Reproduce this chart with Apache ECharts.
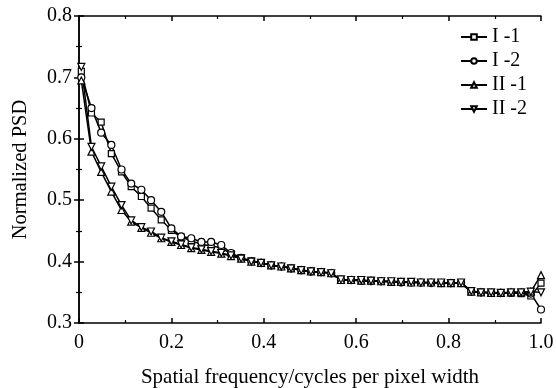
<!DOCTYPE html>
<html>
<head>
<meta charset="utf-8">
<script src="https://cdn.jsdelivr.net/npm/echarts@6/dist/echarts.min.js"></script>
<style>html,body{margin:0;padding:0;background:#fff}#c{width:556px;height:388px}</style>
</head>
<body>
<div id="c"></div>
<script>
var freq = [0.005,0.027,0.048,0.070,0.092,0.113,0.135,0.156,0.178,0.200,0.221,0.243,0.265,0.286,0.308,0.329,0.351,0.373,0.394,0.416,0.438,0.459,0.481,0.502,0.524,0.546,0.567,0.589,0.611,0.632,0.654,0.676,0.697,0.719,0.740,0.762,0.784,0.805,0.827,0.849,0.870,0.892,0.913,0.935,0.957,0.978,1.000];
var seriesNames = ['I -1','I -2','II -1','II -2'];
var psdI1 = [0.710,0.642,0.627,0.576,0.546,0.522,0.506,0.487,0.468,0.451,0.440,0.434,0.428,0.426,0.422,0.413,0.406,0.401,0.398,0.394,0.392,0.389,0.386,0.384,0.383,0.381,0.370,0.370,0.369,0.369,0.368,0.367,0.367,0.366,0.366,0.366,0.365,0.365,0.365,0.351,0.350,0.349,0.349,0.349,0.348,0.344,0.365];
var psdI2 = [0.700,0.650,0.610,0.590,0.550,0.527,0.517,0.500,0.481,0.454,0.441,0.438,0.432,0.432,0.427,0.414,0.406,0.401,0.398,0.394,0.392,0.389,0.386,0.384,0.383,0.381,0.370,0.370,0.369,0.368,0.368,0.367,0.366,0.366,0.366,0.365,0.365,0.365,0.365,0.351,0.350,0.349,0.349,0.349,0.349,0.348,0.322];
var psdII1 = [0.695,0.579,0.546,0.514,0.484,0.465,0.455,0.447,0.438,0.432,0.427,0.422,0.419,0.416,0.413,0.409,0.405,0.400,0.398,0.394,0.392,0.389,0.386,0.384,0.383,0.381,0.370,0.370,0.369,0.369,0.368,0.367,0.367,0.366,0.366,0.366,0.365,0.365,0.365,0.351,0.350,0.349,0.349,0.350,0.350,0.351,0.378];
var psdII2 = [0.717,0.587,0.555,0.522,0.492,0.467,0.456,0.449,0.439,0.433,0.428,0.423,0.420,0.417,0.414,0.410,0.405,0.400,0.398,0.394,0.392,0.389,0.386,0.384,0.383,0.381,0.371,0.370,0.370,0.369,0.368,0.368,0.367,0.367,0.366,0.366,0.366,0.365,0.366,0.352,0.350,0.350,0.349,0.350,0.350,0.351,0.350];
var xTicks = ['0','0.2','0.4','0.6','0.8','1.0'];

var font = "'Liberation Serif','Times New Roman',serif";
function pairs(ys){ return freq.map(function(x,i){ return [x, ys[i]]; }); }
var symbols = ['rect','circle','triangle','triangle'];
var rots = [0,0,0,180];
var datas = [psdI1, psdI2, psdII1, psdII2];

var series = datas.map(function(d,k){
  return {
    name: seriesNames[k], type: 'line', data: pairs(d),
    symbol: symbols[k], symbolRotate: rots[k], symbolSize: k===0?6:7,
    showAllSymbol: true,
    lineStyle: {color:'#000', width:1.5},
    itemStyle: {color:'#fff', borderColor:'#000', borderWidth:1.2},
    emphasis: {disabled:true}, animation:false
  };
});

var axisCommon = {
  type:'value', min:0, max:1, interval:0.2,
  axisLine:{show:true, lineStyle:{color:'#000', width:1.5}},
  axisTick:{show:true, inside:true, length:5, lineStyle:{color:'#000', width:1.5}},
  minorTick:{show:true, splitNumber:2, length:3, lineStyle:{color:'#000', width:1.2}},
  splitLine:{show:false}
};
var yCommon = {
  type:'value', min:0.3, max:0.8, interval:0.1,
  axisLine:{show:true, lineStyle:{color:'#000', width:1.5}},
  axisTick:{show:true, inside:true, length:5, lineStyle:{color:'#000', width:1.5}},
  minorTick:{show:true, splitNumber:2, length:3, lineStyle:{color:'#000', width:1.2}},
  splitLine:{show:false}
};

var chart = echarts.init(document.getElementById('c'), null, {renderer:'canvas'});
chart.setOption({
  animation:false,
  backgroundColor:'#fff',
  grid:{left:79, right:15, top:16, bottom:65, containLabel:false, outerBoundsMode:'none'},
  legend:{
    show:true, orient:'vertical', left:455, top:22, itemWidth:26, itemHeight:7, itemGap:4,
    data: seriesNames,
    textStyle:{fontFamily:font, fontSize:20, color:'#000'}
  },
  xAxis:[
    Object.assign({}, axisCommon, {
      position:'bottom',
      name:'Spatial frequency/cycles per pixel width', nameLocation:'middle', nameGap:44,
      nameTextStyle:{fontFamily:font, fontSize:21, color:'#000'},
      axisLabel:{show:true, margin:10, fontFamily:font, fontSize:20, color:'#000',
        formatter:function(v){ var idx=Math.round(v/0.2); return xTicks[idx]; }}
    }),
    Object.assign({}, axisCommon, {position:'top', axisLabel:{show:false}})
  ],
  yAxis:[
    Object.assign({}, yCommon, {
      position:'left',
      name:'Normalized PSD', nameLocation:'middle', nameGap:48, nameRotate:90,
      nameTextStyle:{fontFamily:font, fontSize:20.5, color:'#000'},
      axisLabel:{show:true, margin:7, fontFamily:font, fontSize:20, color:'#000',
        formatter:function(v){ return v.toFixed(1); }}
    }),
    Object.assign({}, yCommon, {position:'right', axisLabel:{show:false}})
  ],
  series: series
});
</script>
</body>
</html>
